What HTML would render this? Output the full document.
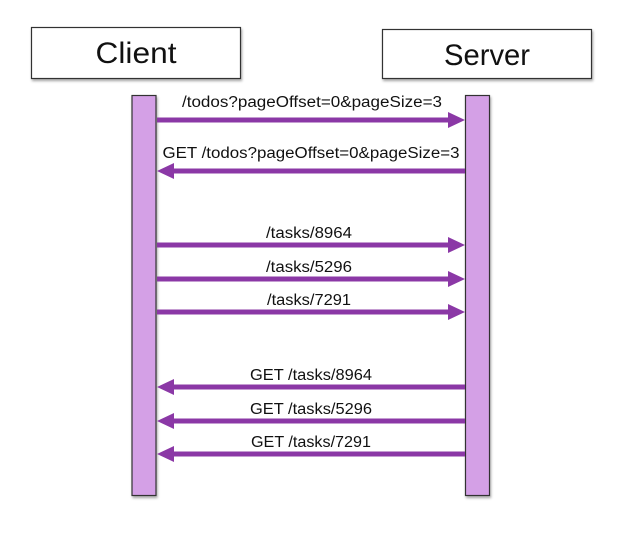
<!DOCTYPE html>
<html><head><style>
html,body{margin:0;padding:0;background:#fff;}
svg{display:block;}
text{font-family:"Liberation Sans",sans-serif;fill:#111;}
</style></head><body>
<svg width="623" height="534" viewBox="0 0 623 534" xmlns="http://www.w3.org/2000/svg">
<defs>
<filter id="sh" x="-10%" y="-10%" width="130%" height="130%"><feDropShadow dx="1" dy="2" stdDeviation="1.2" flood-color="#000" flood-opacity="0.35"/></filter>
</defs>
<rect x="31.5" y="27.5" width="209" height="51" fill="#fff" stroke="#333" stroke-width="1.2" filter="url(#sh)"/>
<text x="136" y="63" font-size="30" text-anchor="middle" textLength="81" lengthAdjust="spacingAndGlyphs">Client</text>
<rect x="382.5" y="29.5" width="209" height="49" fill="#fff" stroke="#333" stroke-width="1.2" filter="url(#sh)"/>
<text x="487" y="65" font-size="30" text-anchor="middle" textLength="86" lengthAdjust="spacingAndGlyphs">Server</text>
<rect x="132" y="95.5" width="24" height="400" fill="#d4a0e6" stroke="#333" stroke-width="1.2" filter="url(#sh)"/>
<rect x="465.5" y="95.5" width="24" height="400" fill="#d4a0e6" stroke="#333" stroke-width="1.2" filter="url(#sh)"/>
<g fill="#8b38a6">
<rect x="157" y="117.5" width="294" height="5"/><polygon points="448,112 465,120 448,128"/>
<rect x="157" y="242.5" width="294" height="5"/><polygon points="448,237 465,245 448,253"/>
<rect x="157" y="276.5" width="294" height="5"/><polygon points="448,271 465,279 448,287"/>
<rect x="157" y="309.5" width="294" height="5"/><polygon points="448,304 465,312 448,320"/>
<rect x="172" y="168.5" width="293" height="5"/><polygon points="174,163 157,171 174,179"/>
<rect x="172" y="384.5" width="293" height="5"/><polygon points="174,379 157,387 174,395"/>
<rect x="172" y="418.5" width="293" height="5"/><polygon points="174,413 157,421 174,429"/>
<rect x="172" y="451.5" width="293" height="5"/><polygon points="174,446 157,454 174,462"/>
</g>
<g font-size="15.5" text-anchor="middle" lengthAdjust="spacingAndGlyphs">
<text x="312" y="107" textLength="260" lengthAdjust="spacingAndGlyphs">/todos?pageOffset=0&amp;pageSize=3</text>
<text x="311" y="158" textLength="297" lengthAdjust="spacingAndGlyphs">GET /todos?pageOffset=0&amp;pageSize=3</text>
<text x="309" y="238" textLength="86" lengthAdjust="spacingAndGlyphs">/tasks/8964</text>
<text x="309" y="272" textLength="86" lengthAdjust="spacingAndGlyphs">/tasks/5296</text>
<text x="309" y="305" textLength="84" lengthAdjust="spacingAndGlyphs">/tasks/7291</text>
<text x="311" y="380" textLength="122" lengthAdjust="spacingAndGlyphs">GET /tasks/8964</text>
<text x="311" y="414" textLength="122" lengthAdjust="spacingAndGlyphs">GET /tasks/5296</text>
<text x="311" y="447" textLength="120" lengthAdjust="spacingAndGlyphs">GET /tasks/7291</text>
</g>
</svg>
</body></html>
